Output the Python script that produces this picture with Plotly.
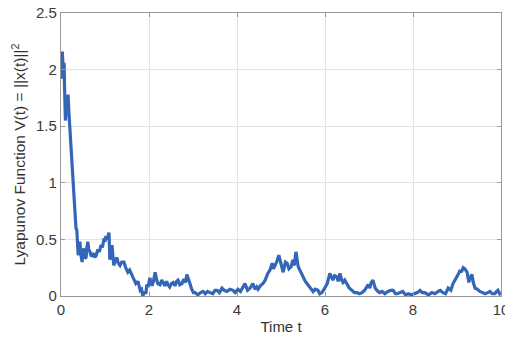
import plotly.graph_objects as go

t = [0.0, 0.01, 0.02, 0.03, 0.04, 0.05, 0.06, 0.07, 0.08, 0.1, 0.12, 0.13, 0.15, 0.16, 0.18,
     0.2, 0.22, 0.25, 0.27, 0.3, 0.32, 0.34, 0.36, 0.38, 0.39, 0.41,
     0.43, 0.45, 0.48, 0.5, 0.52, 0.55, 0.57, 0.59, 0.61, 0.63, 0.66, 0.68, 0.70, 0.73,
     0.77, 0.8, 0.84, 0.87, 0.91, 0.94, 0.98, 1.0, 1.02, 1.05, 1.07, 1.09,
     1.11, 1.13, 1.16, 1.18, 1.2, 1.23, 1.27, 1.3, 1.34, 1.38, 1.43, 1.47, 1.52, 1.56,
     1.61, 1.65, 1.7, 1.75, 1.8, 1.83, 1.86, 1.9, 1.93, 1.95, 1.98, 2.02, 2.05, 2.07,
     2.1, 2.14, 2.17, 2.2, 2.25, 2.29, 2.32, 2.36, 2.4, 2.43, 2.47, 2.51, 2.55, 2.59,
     2.63, 2.66, 2.7, 2.75, 2.79, 2.83, 2.86, 2.9, 2.93, 2.97, 3.01, 3.05, 3.11, 3.17,
     3.23, 3.28, 3.33, 3.39, 3.45, 3.5, 3.55, 3.6, 3.66, 3.71, 3.77, 3.84, 3.91, 3.96,
     4.02, 4.08, 4.13, 4.18, 4.24, 4.3, 4.36, 4.41, 4.45, 4.48, 4.53, 4.59, 4.64, 4.7,
     4.75, 4.8, 4.83, 4.86, 4.9, 4.95, 5.0, 5.05, 5.1, 5.14, 5.18, 5.23, 5.27, 5.3,
     5.34, 5.37, 5.39, 5.44, 5.5, 5.55, 5.61, 5.67, 5.73, 5.78, 5.84, 5.88, 5.93, 5.98,
     6.05, 6.11, 6.15, 6.18, 6.22, 6.27, 6.3, 6.34, 6.38, 6.41, 6.45, 6.5, 6.55, 6.61,
     6.67, 6.73, 6.78, 6.84, 6.9, 6.95, 6.98, 7.02, 7.05, 7.09, 7.12, 7.14, 7.18, 7.24,
     7.3, 7.36, 7.43, 7.49, 7.55, 7.6, 7.64, 7.7, 7.77, 7.83, 7.89, 7.96, 8.05, 8.1,
     8.16, 8.21, 8.27, 8.35, 8.43, 8.5, 8.57, 8.62, 8.68, 8.74, 8.8, 8.86, 8.91, 8.96,
     9.0, 9.04, 9.07, 9.1, 9.14, 9.18, 9.23, 9.27, 9.3, 9.34, 9.37, 9.41, 9.46, 9.52,
     9.58, 9.64, 9.7, 9.75, 9.8, 9.86, 9.9, 9.93, 9.97, 10.0]
v = [1.97, 1.92, 2.05, 2.16, 2.08, 1.94, 2.03, 2.06, 1.85, 1.55, 1.66, 1.70, 1.62, 1.78, 1.62,
     1.50, 1.30, 1.15, 1.02, 0.85, 0.72, 0.60, 0.58, 0.45, 0.36, 0.44,
     0.48, 0.37, 0.30, 0.39, 0.42, 0.33, 0.34, 0.43, 0.48, 0.41, 0.39, 0.36, 0.35, 0.38,
     0.34, 0.36, 0.41, 0.39, 0.45, 0.43, 0.51, 0.48, 0.53, 0.50, 0.55, 0.56,
     0.32, 0.38, 0.45, 0.35, 0.27, 0.31, 0.34, 0.29, 0.27, 0.30, 0.30, 0.25, 0.21, 0.23,
     0.19, 0.16, 0.11, 0.13, 0.05, 0.06, 0.0, 0.04, 0.02, 0.10, 0.08, 0.16, 0.12, 0.09,
     0.13, 0.21, 0.15, 0.11, 0.10, 0.14, 0.12, 0.09, 0.13, 0.10, 0.08, 0.11, 0.12, 0.09,
     0.13, 0.14, 0.10, 0.11, 0.15, 0.12, 0.19, 0.15, 0.11, 0.06, 0.03, 0.03, 0.01, 0.03,
     0.04, 0.02, 0.04, 0.03, 0.02, 0.05, 0.05, 0.03, 0.07, 0.05, 0.04, 0.06, 0.05, 0.03,
     0.06, 0.04, 0.07, 0.11, 0.05, 0.07, 0.11, 0.06, 0.08, 0.06, 0.09, 0.11, 0.14, 0.20,
     0.23, 0.29, 0.24, 0.26, 0.30, 0.36, 0.27, 0.21, 0.30, 0.29, 0.24, 0.26, 0.32, 0.27,
     0.39, 0.33, 0.26, 0.22, 0.17, 0.13, 0.10, 0.07, 0.04, 0.06, 0.05, 0.02, 0.03, 0.06,
     0.11, 0.20, 0.16, 0.14, 0.18, 0.17, 0.13, 0.20, 0.14, 0.12, 0.14, 0.11, 0.07, 0.05,
     0.03, 0.03, 0.02, 0.03, 0.05, 0.08, 0.10, 0.07, 0.12, 0.14, 0.09, 0.07, 0.05, 0.03,
     0.04, 0.02, 0.04, 0.05, 0.05, 0.02, 0.02, 0.03, 0.04, 0.01, 0.02, 0.01, 0.02, 0.03,
     0.05, 0.03, 0.03, 0.01, 0.03, 0.02, 0.04, 0.05, 0.03, 0.02, 0.07, 0.05, 0.11, 0.14,
     0.17, 0.20, 0.23, 0.21, 0.25, 0.24, 0.21, 0.12, 0.16, 0.19, 0.12, 0.07, 0.06, 0.04,
     0.03, 0.02, 0.03, 0.04, 0.02, 0.02, 0.04, 0.05, 0.02, 0.03]

x_ticks = [0, 2, 4, 6, 8, 10]
y_ticks = [0, 0.5, 1, 1.5, 2, 2.5]
y_tick_text = ["0", "0.5", "1", "1.5", "2", "2.5"]

FONT = "Liberation Sans, Arial"

fig = go.Figure()
fig.add_trace(go.Scatter(x=t, y=v, mode="lines",
                         line=dict(color="#3366b8", width=3.2), showlegend=False))

axis_common = dict(showgrid=True, gridcolor="#e3e3e3", gridwidth=1,
                   showline=True, linecolor="#999999", linewidth=1.2, mirror="ticks",
                   ticks="inside", ticklen=4, tickcolor="#999999",
                   zeroline=False, ticklabeloverflow="allow", automargin=False,
                   tickfont=dict(family=FONT, size=15, color="#3a3a3a"))

fig.update_layout(
    width=505, height=338,
    margin=dict(l=61, r=4, t=13, b=42),
    plot_bgcolor="white", paper_bgcolor="white",
    xaxis=dict(range=[0, 10], tickvals=x_ticks, ticktext=[str(x) for x in x_ticks],
               title=dict(text="Time t", font=dict(family=FONT, size=15, color="#333333"),
                          standoff=4),
               **axis_common),
    yaxis=dict(range=[0, 2.5], tickvals=y_ticks, ticktext=y_tick_text,
               title=dict(text="Lyapunov Function V(t) = ||x(t)||<sup>2</sup>",
                          font=dict(family=FONT, size=15.5, color="#333333"),
                          standoff=6),
               **axis_common),
)

fig.write_html("out.html")
